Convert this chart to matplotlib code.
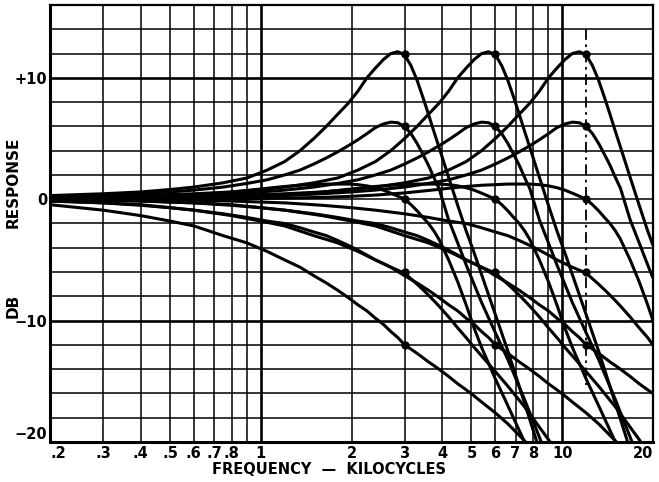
import matplotlib
matplotlib.use("Agg")
import matplotlib.pyplot as plt
import numpy as np

# frequencies (kHz) sampled for each family of curves (resonance at 3, 6, 12 kHz)
f3 = [0.2, 0.3, 0.4, 0.5, 0.6, 0.75, 0.9, 1.05, 1.2, 1.35,
      1.5, 1.65, 1.8, 1.95, 2.1, 2.25, 2.4, 2.55, 2.7, 2.85,
      3.0, 3.15, 3.3, 3.45, 3.6, 3.75, 3.9, 4.2, 4.5, 4.8,
      5.1, 5.4, 6.0, 6.6, 7.5, 9.0, 10.0, 12.0, 15.0, 20.0]
f6 = [0.2, 0.3, 0.4, 0.6, 0.8, 1.0, 1.2, 1.5, 1.8, 2.1,
      2.4, 2.7, 3.0, 3.3, 3.6, 3.9, 4.2, 4.5, 4.8, 5.1,
      5.4, 5.7, 6.0, 6.3, 6.6, 6.9, 7.2, 7.5, 7.8, 8.4,
      9.0, 9.6, 10.2, 10.8, 12.0, 13.2, 15.0, 18.0, 20.0]
f12 = [0.2, 0.3, 0.4, 0.6, 0.8, 1.2, 1.6, 2.0, 2.4, 3.0,
       3.6, 4.2, 4.8, 5.4, 6.0, 6.6, 7.2, 7.8, 8.4, 9.0,
       9.6, 10.2, 10.8, 11.4, 12.0, 12.6, 13.2, 13.8, 14.4, 15.0,
       15.6, 16.8, 18.0, 19.2, 20.0]

# response in dB, 3 kHz family
r3_p12 = [0.3, 0.45, 0.6, 0.8, 1.0, 1.35, 1.75, 2.4, 3.1, 4.0,
          5.0, 6.0, 7.0, 7.9, 8.9, 10.0, 10.8, 11.5, 12.0, 12.15,
          11.9, 11.0, 9.8, 8.4, 7.0, 5.6, 4.3, 1.8, -0.5, -2.6,
          -4.4, -6.2, -9.5, -12.5, -16.8, -23.0, -26, -31, -37, -45]
r3_p6 = [0.2, 0.3, 0.45, 0.6, 0.75, 1.0, 1.3, 1.6, 2.0, 2.4,
         2.9, 3.4, 3.9, 4.4, 4.9, 5.4, 5.9, 6.2, 6.35, 6.3,
         6.0, 5.4, 4.6, 3.7, 2.8, 1.8, 0.9, -1.7, -3.6, -5.4,
         -7.0, -8.5, -11.0, -13.2, -16.5, -21.5, -24.5, -29.5, -35, -43]
r3_0 = [0.04, 0.09, 0.15, 0.24, 0.34, 0.52, 0.72, 0.9, 1.05, 1.15,
        1.2, 1.25, 1.25, 1.25, 1.2, 1.1, 0.95, 0.75, 0.5, 0.25,
        0.0, -0.45, -0.95, -1.5, -2.0, -2.6, -3.3, -5.0, -6.8, -8.7,
        -10.6, -12.2, -14.8, -17.0, -20.0, -24.0, -26.5, -31, -37, -45]
r3_m6 = [-0.15, -0.3, -0.5, -0.7, -0.9, -1.2, -1.5, -1.8, -2.0, -2.35,
         -2.7, -3.0, -3.4, -3.8, -4.2, -4.6, -5.0, -5.3, -5.6, -5.85,
         -6.1, -6.55, -7.0, -7.45, -7.9, -8.35, -8.8, -9.7, -10.6, -11.4,
         -12.2, -12.9, -14.2, -15.4, -17.1, -19.8, -21.4, -24.7, -28.6, -34]
r3_m12 = [-0.45, -0.9, -1.35, -1.8, -2.2, -3.0, -3.6, -4.3, -5.0, -5.6,
          -6.3, -6.9, -7.5, -8.1, -8.7, -9.2, -9.8, -10.3, -10.9, -11.4,
          -12.0, -12.35, -12.7, -13.05, -13.4, -13.7, -14.0, -14.6, -15.2, -15.7,
          -16.2, -16.7, -17.6, -18.5, -19.9, -22.0, -23.3, -26, -29.5, -34]

# 6 kHz family
r6_p12 = [0.1, 0.2, 0.3, 0.45, 0.6, 0.8, 1.0, 1.35, 1.75, 2.4,
          3.1, 4.0, 5.0, 6.0, 7.0, 7.9, 8.9, 10.0, 10.8, 11.5,
          12.0, 12.15, 11.9, 11.0, 9.8, 8.4, 7.0, 5.6, 4.3, 1.8,
          -0.5, -2.6, -4.4, -6.2, -9.5, -12.5, -16.8, -23.0, -26]
r6_p6 = [0.05, 0.1, 0.2, 0.3, 0.45, 0.6, 0.75, 1.0, 1.3, 1.6,
         2.0, 2.4, 2.9, 3.4, 3.9, 4.4, 4.9, 5.4, 5.9, 6.2,
         6.35, 6.3, 6.0, 5.4, 4.6, 3.7, 2.8, 1.8, 0.9, -1.7,
         -3.6, -5.4, -7.0, -8.5, -11.0, -13.2, -16.5, -21.5, -24.5]
r6_0 = [0, 0.02, 0.04, 0.09, 0.15, 0.24, 0.34, 0.52, 0.72, 0.9,
        1.05, 1.15, 1.2, 1.25, 1.25, 1.25, 1.2, 1.1, 0.95, 0.75,
        0.5, 0.25, 0.0, -0.45, -0.95, -1.5, -2.0, -2.6, -3.3, -5.0,
        -6.8, -8.7, -10.6, -12.2, -14.8, -17.0, -20.0, -24.0, -26.5]
r6_m6 = [-0.04, -0.08, -0.15, -0.3, -0.5, -0.7, -0.9, -1.2, -1.5, -1.8,
         -2.0, -2.35, -2.7, -3.0, -3.4, -3.8, -4.2, -4.6, -5.0, -5.3,
         -5.6, -5.85, -6.1, -6.55, -7.0, -7.45, -7.9, -8.35, -8.8, -9.7,
         -10.6, -11.4, -12.2, -12.9, -14.2, -15.4, -17.1, -19.8, -21.4]
r6_m12 = [-0.15, -0.3, -0.45, -0.9, -1.35, -1.8, -2.2, -3.0, -3.6, -4.3,
          -5.0, -5.6, -6.3, -6.9, -7.5, -8.1, -8.7, -9.2, -9.8, -10.3,
          -10.9, -11.4, -12.0, -12.35, -12.7, -13.05, -13.4, -13.7, -14.0, -14.6,
          -15.2, -15.7, -16.2, -16.7, -17.6, -18.5, -19.9, -22.0, -23.3]

# 12 kHz family
r12_p12 = [0.0, 0.05, 0.1, 0.2, 0.3, 0.45, 0.6, 0.8, 1.0, 1.35,
           1.75, 2.4, 3.1, 4.0, 5.0, 6.0, 7.0, 7.9, 8.9, 10.0,
           10.8, 11.5, 12.0, 12.15, 11.9, 11.0, 9.8, 8.4, 7.0, 5.6,
           4.3, 1.8, -0.5, -2.6, -3.8]
r12_p6 = [0.0, 0.03, 0.05, 0.1, 0.2, 0.3, 0.45, 0.6, 0.75, 1.0,
          1.3, 1.6, 2.0, 2.4, 2.9, 3.4, 3.9, 4.4, 4.9, 5.4,
          5.9, 6.2, 6.35, 6.3, 6.0, 5.4, 4.6, 3.7, 2.8, 1.8,
          0.9, -1.7, -3.6, -5.4, -6.5]
r12_0 = [0, 0, 0, 0.02, 0.04, 0.09, 0.15, 0.24, 0.34, 0.52,
         0.72, 0.9, 1.05, 1.15, 1.2, 1.25, 1.25, 1.25, 1.2, 1.1,
         0.95, 0.75, 0.5, 0.25, 0.0, -0.45, -0.95, -1.5, -2.0, -2.6,
         -3.3, -5.0, -6.8, -8.7, -10.0]
r12_m6 = [0, -0.02, -0.04, -0.08, -0.15, -0.3, -0.5, -0.7, -0.9, -1.2,
          -1.5, -1.8, -2.0, -2.35, -2.7, -3.0, -3.4, -3.8, -4.2, -4.6,
          -5.0, -5.3, -5.6, -5.85, -6.1, -6.55, -7.0, -7.45, -7.9, -8.35,
          -8.8, -9.7, -10.6, -11.4, -12.0]
r12_m12 = [-0.05, -0.1, -0.15, -0.3, -0.45, -0.9, -1.35, -1.8, -2.2, -3.0,
           -3.6, -4.3, -5.0, -5.6, -6.3, -6.9, -7.5, -8.1, -8.7, -9.2,
           -9.8, -10.3, -10.9, -11.4, -12.0, -12.35, -12.7, -13.05, -13.4, -13.7,
           -14.0, -14.6, -15.2, -15.7, -16.0]

# marked points at the resonant frequencies
dot_freqs = [3, 6, 12]
dot_levels = [12, 6, 0, -6, -12]

xtick_vals = [0.2, 0.3, 0.4, 0.5, 0.6, 0.7, 0.8, 1, 2, 3, 4, 5, 6, 7, 8, 10, 20]
xtick_text = [".2", ".3", ".4", ".5", ".6", ".7", ".8", "1", "2", "3", "4", "5",
              "6", "7", "8", "10", "20"]
ytick_vals = [10, 0, -10, -20]
ytick_text = ["+10", "0", "\u221210", "\u221220"]

fig = plt.figure(figsize=(6.59, 4.82), dpi=100)
ax = fig.add_axes([50 / 659, 1 - 442 / 482, 603 / 659, 437 / 482])
ax.set_xscale("log")
ax.set_xlim(0.2, 20)
ax.set_ylim(-20, 16)

# grid
vlines = [0.3, 0.4, 0.5, 0.6, 0.7, 0.8, 0.9, 1, 2, 3, 4, 5, 6, 7, 8, 9, 10]
for v in vlines:
    ax.axvline(v, color="black", lw=1.9 if v in (1, 10) else 1.1, zorder=1)
for h in range(-18, 16, 2):
    ax.axhline(h, color="black", lw=1.9 if h in (10, -10) else 1.1, zorder=1)
ax.plot([12, 12], [14, -15.3], color="black", lw=1.3, ls=(0, (6, 2.5, 1.5, 2.5)), zorder=1)

families = [
    (f3, [r3_p12, r3_p6, r3_0, r3_m6, r3_m12]),
    (f6, [r6_p12, r6_p6, r6_0, r6_m6, r6_m12]),
    (f12, [r12_p12, r12_p6, r12_0, r12_m6, r12_m12]),
]
for freqs, curves in families:
    for c in curves:
        ax.plot(freqs, c, color="black", lw=2.2, solid_capstyle="butt", zorder=3)

for fd in dot_freqs:
    ax.plot([fd] * len(dot_levels), dot_levels, "o", color="black", ms=5, zorder=4)

for s in ax.spines.values():
    s.set_linewidth(1.6)
ax.spines["left"].set_linewidth(2.2)
ax.spines["bottom"].set_linewidth(2.2)

ax.set_xticks(xtick_vals)
ax.set_xticklabels(xtick_text)
ax.xaxis.set_minor_locator(matplotlib.ticker.NullLocator())
ax.set_yticks(ytick_vals)
ax.set_yticklabels(ytick_text)
ax.tick_params(length=0, labelsize=10.5)
ax.tick_params(axis="x", pad=3)
ax.tick_params(axis="y", pad=2)
for lab in ax.get_xticklabels() + ax.get_yticklabels():
    lab.set_fontweight("bold")
xl = ax.get_xticklabels()
xl[0].set_horizontalalignment("left")
xl[-1].set_horizontalalignment("right")
ax.get_yticklabels()[-1].set_verticalalignment("bottom")

fig.text(0.5, 0.025, "FREQUENCY  \u2014  KILOCYCLES", ha="center", va="center",
         fontsize=10.5, fontweight="bold")
fig.text(0.02, 0.622, "RESPONSE", rotation=90, ha="center", va="center",
         fontsize=11, fontweight="bold")
fig.text(0.02, 0.365, "DB", rotation=90, ha="center", va="center",
         fontsize=11, fontweight="bold")

fig.savefig("out.png", dpi=100)
